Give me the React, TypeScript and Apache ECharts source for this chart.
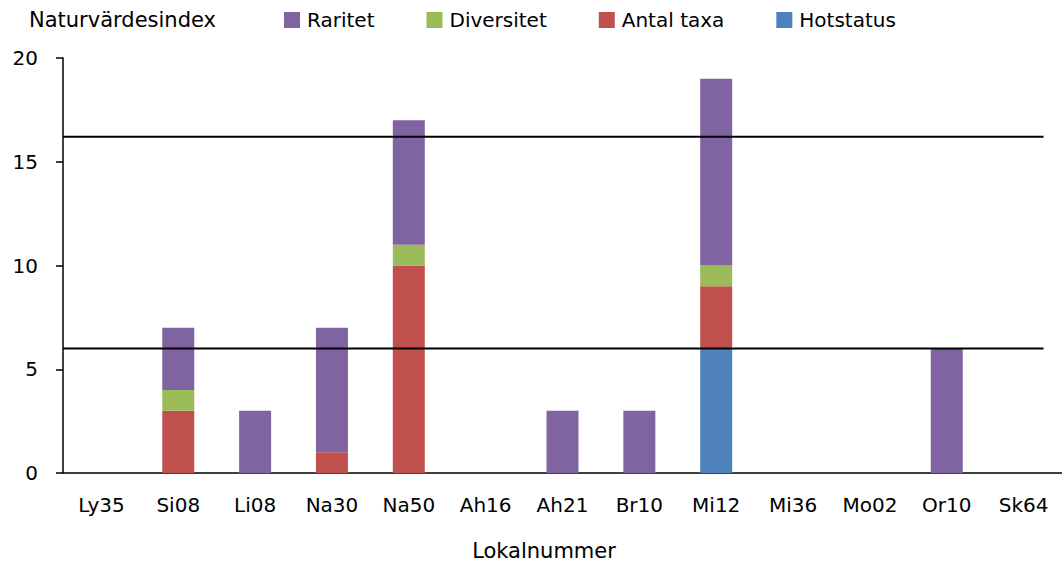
import React, { useEffect, useRef } from "react";
import * as echarts from "echarts";

// Site codes along the category axis
const categories = [
  "Ly35", "Si08", "Li08", "Na30", "Na50", "Ah16", "Ah21",
  "Br10", "Mi12", "Mi36", "Mo02", "Or10", "Sk64",
];

// Index components per site (stacked bottom → top: Hotstatus, Antal taxa, Diversitet, Raritet)
const hotstatus = [0, 0, 0, 0, 0, 0, 0, 0, 6, 0, 0, 0, 0];
const antalTaxa = [0, 3, 0, 1, 10, 0, 0, 0, 3, 0, 0, 0, 0];
const diversitet = [0, 1, 0, 0, 1, 0, 0, 0, 1, 0, 0, 0, 0];
const raritet = [0, 3, 3, 6, 6, 0, 3, 3, 9, 0, 0, 6, 0];

// Class thresholds drawn as horizontal reference lines
const thresholds = [16.2, 6];
// Extent of the reference lines along the category axis (in category units)
const lineExtent = [0, 12.76];

const yTicks = { min: 0, max: 20, interval: 5 };

const FONT = "'DejaVu Sans', 'Noto Sans', sans-serif";
const COLORS: Record<string, string> = {
  Raritet: "#8064A2",
  Diversitet: "#9BBB59",
  "Antal taxa": "#C0504D",
  Hotstatus: "#4F81BD",
};

export default function App() {
  const ref = useRef<HTMLDivElement>(null);

  useEffect(() => {
    if (!ref.current) return;
    const chart = echarts.init(ref.current, null, { renderer: "svg" });

    const barSeries = [
      { name: "Hotstatus", data: hotstatus },
      { name: "Antal taxa", data: antalTaxa },
      { name: "Diversitet", data: diversitet },
      { name: "Raritet", data: raritet },
    ].map((s) => ({
      type: "bar" as const,
      name: s.name,
      stack: "index",
      data: s.data,
      barWidth: 32,
      xAxisIndex: 0,
      itemStyle: { color: COLORS[s.name] },
    }));

    const lineSeries = thresholds.map((t, i) => ({
      type: "line" as const,
      name: "threshold" + i,
      xAxisIndex: 1,
      yAxisIndex: 0,
      data: lineExtent.map((x) => [x, t]),
      symbol: "none",
      silent: true,
      lineStyle: { color: "#000", width: 2 },
      z: 5,
    }));

    chart.setOption({
      animation: false,
      backgroundColor: "#fff",
      textStyle: { fontFamily: FONT },
      legend: {
        data: ["Raritet", "Diversitet", "Antal taxa", "Hotstatus"],
        left: 284,
        top: 10,
        padding: 0,
        itemWidth: 16,
        itemHeight: 16,
        itemGap: 52,
        icon: "rect",
        textStyle: { fontFamily: FONT, fontSize: 20, color: "#000", padding: [0, 0, 0, 2] },
      },
      grid: { left: 63, right: -8, top: 58, bottom: 93 },
      xAxis: [
        {
          type: "category",
          data: categories,
          axisLine: { lineStyle: { color: "#000", width: 1.5 } },
          axisTick: { length: 8, lineStyle: { color: "#000", width: 1.5 } },
          axisLabel: { fontFamily: FONT, fontSize: 20, color: "#000", margin: 22 },
        },
        {
          type: "value",
          min: 0,
          max: categories.length,
          show: false,
        },
      ],
      yAxis: {
        type: "value",
        min: yTicks.min,
        max: yTicks.max,
        interval: yTicks.interval,
        splitLine: { show: false },
        axisLine: { show: true, lineStyle: { color: "#000", width: 1.5 } },
        axisTick: { show: true, length: 7, lineStyle: { color: "#000", width: 1.5 } },
        axisLabel: { fontFamily: FONT, fontSize: 20, color: "#000", margin: 25 },
      },
      graphic: [
        {
          type: "text",
          x: 29,
          y: 20,
          style: {
            text: "Naturvärdesindex",
            fontFamily: FONT,
            fontSize: 21,
            fill: "#000",
            align: "left",
            verticalAlign: "middle",
          },
        },
        {
          type: "text",
          x: 544,
          y: 551,
          style: {
            text: "Lokalnummer",
            fontFamily: FONT,
            fontSize: 21,
            fill: "#000",
            align: "center",
            verticalAlign: "middle",
          },
        },
      ],
      series: [...barSeries, ...lineSeries],
    });

    return () => chart.dispose();
  }, []);

  return (
    <div
      ref={ref}
      style={{ position: "fixed", left: 0, top: 0, width: 1062, height: 566 }}
    />
  );
}
